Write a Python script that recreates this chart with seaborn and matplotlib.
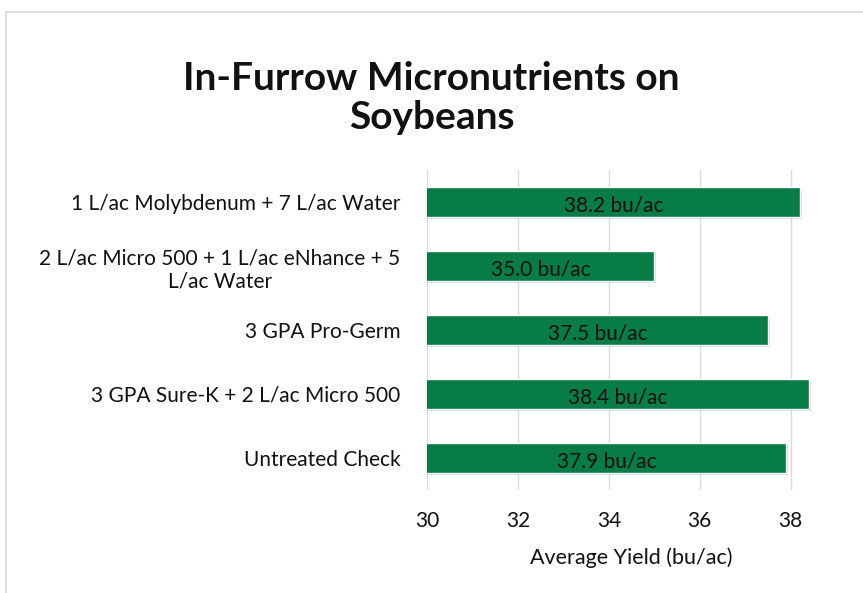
import matplotlib
matplotlib.use("Agg")
import matplotlib.pyplot as plt
import matplotlib.patheffects as pe
import seaborn as sns
import pandas as pd

treatments = [
    "1 L/ac Molybdenum + 7 L/ac Water",
    "2 L/ac Micro 500 + 1 L/ac eNhance + 5\nL/ac Water",
    "3 GPA Pro-Germ",
    "3 GPA Sure-K + 2 L/ac Micro 500",
    "Untreated Check",
]
yields = [38.2, 35.0, 37.5, 38.4, 37.9]
x_ticks = [30, 32, 34, 36, 38]

df = pd.DataFrame({"Treatment": treatments, "Yield": yields})

sns.set_style("white")
plt.rcParams["font.family"] = ["Lato", "DejaVu Sans"]

fig = plt.figure(figsize=(8.63, 5.93), dpi=100)
ax = fig.add_axes([0.4948, 0.174, 0.474, 0.539])

# light frame around the chart like the Excel chart area
fig.patches.append(plt.Rectangle((0.007, -0.01), 1.2, 0.99, transform=fig.transFigure,
                                 fill=False, edgecolor="#d9d9d9", linewidth=1.2))

sns.barplot(data=df, y="Treatment", x="Yield", orient="h", color="#077c45",
            width=0.46, ax=ax, saturation=1)

for bar, v in zip(ax.patches, yields):
    bar.set_path_effects([pe.SimplePatchShadow(offset=(1.5, -1.5), alpha=0.15), pe.Normal()])
    ax.text(30 + (v - 30) / 2, bar.get_y() + bar.get_height() / 2 + 0.06, f"{v:.1f} bu/ac",
            ha="center", va="center", fontsize=15, color="#111111")

ax.set_xlim(30, 39)
ax.set_xticks(x_ticks)
ax.xaxis.grid(True, color="#d9d9d9", linewidth=1)
ax.set_axisbelow(True)
for s in ax.spines.values():
    s.set_visible(False)
ax.axvline(30, color="#d9d9d9", linewidth=1.2, zorder=0)
ax.tick_params(axis="both", length=0, labelsize=15, colors="#111111")
ax.tick_params(axis="x", pad=15)
ax.tick_params(axis="y", pad=19)
for lab in ax.get_yticklabels():
    lab.set_multialignment("center")
ax.set_ylabel("")
ax.set_xlabel("Average Yield (bu/ac)", fontsize=15.5, color="#111111", labelpad=12)

fig.text(0.50, 0.835, "In-Furrow Micronutrients on\nSoybeans", ha="center", va="center",
         fontsize=28, fontweight="bold", linespacing=1.15, color="#111111")

fig.savefig("out.png", dpi=100, facecolor="white")
